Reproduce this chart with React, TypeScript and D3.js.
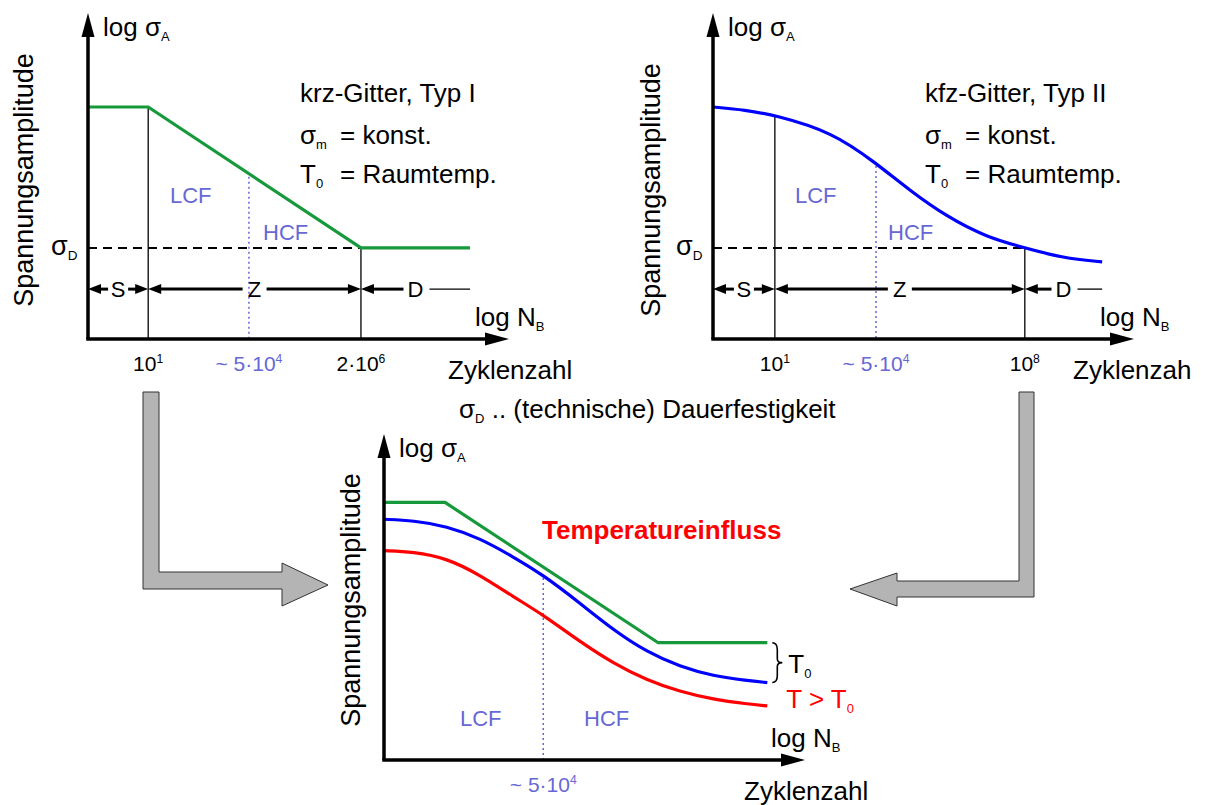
import React from 'react';
import * as d3 from 'd3';

type Part = [string, ('sub' | 'sup')?];

const FONT = '"Liberation Sans", Arial, Helvetica, sans-serif';
const GREEN = '#16993a';
const BLUE = '#0000ff';
const RED = '#ff0000';
const LILAC = '#6767d6';
const GREY = '#b4b4b4';

// chart units: x runs 0..100 along the log N_B axis, y runs 0..100 along the log σA axis
const krzX = [0, 14.4, 65.3, 91.4];
const krzY = [71.6, 71.6, 28.1, 28.1];
const krzTicks = [14.4, 38.5, 65.3];
const krzTickLabels: Part[][] = [[['10'], ['1', 'sup']], [['~ 5·10'], ['4', 'sup']], [['2·10'], ['6', 'sup']]];
const krzTitle = 'krz-Gitter, Typ I';

const kfzX = [0, 7.7, 14.8, 28.5, 39.0, 46.9, 56.0, 65.3, 74.6, 83.7, 93.1];
const kfzY = [71.6, 70.7, 69.1, 63.9, 54.3, 46.0, 37.7, 31.5, 28.1, 25.0, 23.8];
const kfzTicks = [14.8, 39.0, 74.6];
const kfzTickLabels: Part[][] = [[['10'], ['1', 'sup']], [['~ 5·10'], ['4', 'sup']], [['10'], ['8', 'sup']]];
const kfzTitle = 'kfz-Gitter, Typ II';

const sigmaD = 28.1;
const zoneRow = 15.4;
const zoneNames = ['S', 'Z', 'D'];

const tempGreenX = [0, 14.6, 65.6, 91.7];
const tempGreenY = [79.5, 79.5, 36.2, 36.2];
const tempX = [0, 7.0, 15.0, 23.0, 30.9, 38.1, 46.9, 54.9, 62.8, 70.8, 78.8, 86.8, 91.7];
const tempBlueY = [74.3, 73.9, 72.2, 68.4, 62.7, 57.1, 48.4, 40.1, 33.4, 28.8, 25.9, 24.5, 23.9];
const tempRedY = [64.6, 64.3, 62.3, 57.1, 50.4, 44.8, 36.5, 29.8, 24.7, 21.1, 18.7, 17.3, 16.7];
const tempTick = 38.1;
const tempTickLabel: Part[] = [['~ 5·10'], ['4', 'sup']];

const yTitle = 'Spannungsamplitude';

const W = 418;
const H = 324;

function Rich({ x, y, size, parts, fill = '#000', anchor = 'start', weight = 'normal', small = 0.5 }: any) {
    let cur = 0;
    return (
        <text x={x} y={y} fontSize={size} fill={fill} textAnchor={anchor} fontWeight={weight} fontFamily={FONT}>
            {parts.map(([t, k]: Part, i: number) => {
                const off = k === 'sub' ? size * 0.2 : k === 'sup' ? -size * 0.4 : 0;
                const dy = off - cur;
                cur = off;
                return <tspan key={i} dy={dy} fontSize={k ? size * small : size}>{t}</tspan>;
            })}
        </text>
    );
}

function head(x: number, y: number, dir: number, len = 13, half = 5) {
    return `${x},${y} ${x - dir * len},${y - half} ${x - dir * len},${y + half}`;
}

function Axes({ ox, oy, ty, tx, xTitle }: any) {
    const tipX = ox + 421;
    const tipY = oy - 326;
    return (
        <g>
            <line x1={ox - 1.75} y1={oy} x2={tipX - 20} y2={oy} stroke="#000" strokeWidth={3.5} />
            <polygon points={head(tipX, oy, 1, 24, 6.5)} fill="#000" />
            <line x1={ox} y1={oy} x2={ox} y2={tipY + 20} stroke="#000" strokeWidth={3.5} />
            <polygon points={`${ox},${tipY} ${ox - 6.5},${tipY + 24} ${ox + 6.5},${tipY + 24}`} fill="#000" />
            <text transform={`translate(${ox + tx},${oy - ty}) rotate(-90)`} textAnchor="middle"
                fontSize={27} fontFamily={FONT}>{yTitle}</text>
            <Rich x={ox + 15} y={oy - 303} size={26} parts={[['log σ'], ['A', 'sub']]} />
            <Rich x={ox + 387} y={oy - 13} size={26} parts={[['log N'], ['B', 'sub']]} />
            <text x={ox + 360} y={oy + 40} fontSize={26} fontFamily={FONT}>{xTitle}</text>
        </g>
    );
}

function Zones({ x, y, bounds }: any) {
    const ry = y(zoneRow);
    const items: any[] = [];
    zoneNames.forEach((name, i) => {
        const a = x(bounds[i]);
        const b = x(bounds[i + 1]);
        const m = (a + b) / 2;
        const gap = name === 'S' ? 10 : 12;
        items.push(<line key={name + 'l'} x1={a + 12} x2={m - gap} y1={ry} y2={ry} stroke="#000" strokeWidth={3} />);
        items.push(<polygon key={name + 'a'} points={head(a, ry, -1)} fill="#000" />);
        if (name === 'D') {
            items.push(<line key={name + 'r'} x1={m + gap + 2} x2={b} y1={ry} y2={ry} stroke="#000" strokeWidth={1.3} />);
        } else {
            items.push(<line key={name + 'r'} x1={m + gap} x2={b - 12} y1={ry} y2={ry} stroke="#000" strokeWidth={3} />);
            items.push(<polygon key={name + 'b'} points={head(b, ry, 1)} fill="#000" />);
        }
        items.push(<text key={name + 't'} x={m} y={ry + 8} textAnchor="middle" fontSize={22} fontFamily={FONT}>{name}</text>);
    });
    return <g>{items}</g>;
}

function TopPanel({ ox, oy, xs, ys, color, curve, ticks, tickLabels, title, xTitle, ty, tx }: any) {
    const x = d3.scaleLinear().domain([0, 100]).range([ox, ox + W]);
    const y = d3.scaleLinear().domain([0, 100]).range([oy, oy - H]);
    const pts: [number, number][] = xs.map((v: number, i: number) => [v, ys[i]]);
    const line = d3.line<[number, number]>().x(d => x(d[0])).y(d => y(d[1])).curve(curve);
    const at = d3.scaleLinear().domain(xs).range(ys);
    const end = xs[xs.length - 1];
    return (
        <g>
            <line x1={x(ticks[0])} x2={x(ticks[0])} y1={y(at(ticks[0]))} y2={oy} stroke="#000" strokeWidth={1.3} />
            <line x1={x(ticks[2])} x2={x(ticks[2])} y1={y(sigmaD)} y2={oy} stroke="#000" strokeWidth={1.3} />
            <line x1={x(ticks[1])} x2={x(ticks[1])} y1={y(at(ticks[1])) + 3} y2={oy} stroke={LILAC} strokeWidth={1.5} strokeDasharray="2 3" />
            <line x1={x(0)} x2={x(ticks[2])} y1={y(sigmaD)} y2={y(sigmaD)} stroke="#000" strokeWidth={2} strokeDasharray="9 6" />
            <path d={line(pts) || ''} fill="none" stroke={color} strokeWidth={3.2} />
            <Zones x={x} y={y} bounds={[0, ticks[0], ticks[2], end]} />
            <Axes ox={ox} oy={oy} ty={ty} tx={tx} xTitle={xTitle} />
            <Rich x={ox - 37} y={y(sigmaD) + 7} size={27} parts={[['σ'], ['D', 'sub']]} />
            {tickLabels.map((p: Part[], i: number) => (
                <Rich key={i} x={x(ticks[i])} y={oy + 32} size={21} small={0.58} anchor="middle" parts={p}
                    fill={i === 1 ? LILAC : '#000'} />
            ))}
            <text x={ox + 82} y={oy - 136} fontSize={22} fill={LILAC} fontFamily={FONT}>LCF</text>
            <text x={ox + 175} y={oy - 99} fontSize={22} fill={LILAC} fontFamily={FONT}>HCF</text>
            <text x={ox + 212} y={oy - 237} fontSize={26} fontFamily={FONT}>{title}</text>
            <Rich x={ox + 212} y={oy - 195} size={26} parts={[['σ'], ['m', 'sub']]} />
            <text x={ox + 252} y={oy - 195} fontSize={26} fontFamily={FONT}>= konst.</text>
            <Rich x={ox + 212} y={oy - 156} size={26} parts={[['T'], ['0', 'sub']]} />
            <text x={ox + 252} y={oy - 156} fontSize={26} fontFamily={FONT}>= Raumtemp.</text>
        </g>
    );
}

function BottomPanel({ ox, oy }: any) {
    const x = d3.scaleLinear().domain([0, 100]).range([ox, ox + W]);
    const y = d3.scaleLinear().domain([0, 100]).range([oy, oy - H]);
    const straight = d3.line<number>().x((_, i) => x(tempGreenX[i])).y(d => y(d));
    const smooth = d3.line<number>().x((_, i) => x(tempX[i])).y(d => y(d)).curve(d3.curveBasis);
    const end = tempX[tempX.length - 1];
    const bx = x(end) + 5;
    const y1 = y(tempGreenY[tempGreenY.length - 1]);
    const y2 = y(tempBlueY[tempBlueY.length - 1]);
    const ym = (y1 + y2) / 2;
    const brace = `M${bx},${y1} Q${bx + 5},${y1} ${bx + 5},${y1 + 7} L${bx + 5},${ym - 4} Q${bx + 5},${ym} ${bx + 10},${ym}`
        + ` Q${bx + 5},${ym} ${bx + 5},${ym + 4} L${bx + 5},${y2 - 7} Q${bx + 5},${y2} ${bx},${y2}`;
    const tickIdx = tempX.indexOf(tempTick);
    return (
        <g>
            <line x1={x(tempTick)} x2={x(tempTick)} y1={y(tempBlueY[tickIdx]) + 3} y2={oy} stroke={LILAC} strokeWidth={1.5} strokeDasharray="2 3" />
            <path d={straight(tempGreenY) || ''} fill="none" stroke={GREEN} strokeWidth={3.2} />
            <path d={smooth(tempBlueY) || ''} fill="none" stroke={BLUE} strokeWidth={3.2} />
            <path d={smooth(tempRedY) || ''} fill="none" stroke={RED} strokeWidth={3.2} />
            <Axes ox={ox} oy={oy} ty={160} tx={-24} xTitle="Zyklenzahl" />
            <Rich x={x(tempTick)} y={oy + 32} size={21} small={0.58} anchor="middle" parts={tempTickLabel} fill={LILAC} />
            <text x={ox + 76} y={oy - 34} fontSize={22} fill={LILAC} fontFamily={FONT}>LCF</text>
            <text x={ox + 200} y={oy - 34} fontSize={22} fill={LILAC} fontFamily={FONT}>HCF</text>
            <text x={ox + 158} y={oy - 221} fontSize={26} fontWeight="bold" fill={RED} fontFamily={FONT}>Temperatureinfluss</text>
            <path d={brace} fill="none" stroke="#000" strokeWidth={1.6} />
            <Rich x={bx + 16} y={ym + 10} size={26} parts={[['T'], ['0', 'sub']]} />
            <Rich x={bx + 14} y={y(tempRedY[tempRedY.length - 1]) + 2} size={26} fill={RED}
                parts={[['T > T'], ['0', 'sub']]} />
        </g>
    );
}

const leftArrow = [[143, 392], [159, 392], [159, 572], [282, 572], [282, 563], [328, 585], [282, 606], [282, 589], [143, 589]];
const rightArrow = [[1019, 392], [1034, 392], [1034, 597], [897, 597], [897, 606], [850, 589], [897, 573], [897, 581], [1019, 581]];

export default function App() {
    return (
        <svg width={1205} height={805} style={{ position: 'absolute', left: 0, top: 0, background: '#fff' }}>
            <polygon points={leftArrow.map(p => p.join(',')).join(' ')} fill={GREY} stroke="#333" strokeWidth={1} />
            <polygon points={rightArrow.map(p => p.join(',')).join(' ')} fill={GREY} stroke="#333" strokeWidth={1} />
            <TopPanel ox={88} oy={339} xs={krzX} ys={krzY} color={GREEN} curve={d3.curveLinear}
                ticks={krzTicks} tickLabels={krzTickLabels} title={krzTitle} xTitle="Zyklenzahl" ty={159} tx={-55} />
            <TopPanel ox={713} oy={339} xs={kfzX} ys={kfzY} color={BLUE} curve={d3.curveBasis}
                ticks={kfzTicks} tickLabels={kfzTickLabels} title={kfzTitle} xTitle="Zyklenzah" ty={149} tx={-53} />
            <Rich x={459} y={418} size={26} parts={[['σ'], ['D', 'sub'], [' .. (technische) Dauerfestigkeit']]} />
            <BottomPanel ox={384} oy={760} />
        </svg>
    );
}
